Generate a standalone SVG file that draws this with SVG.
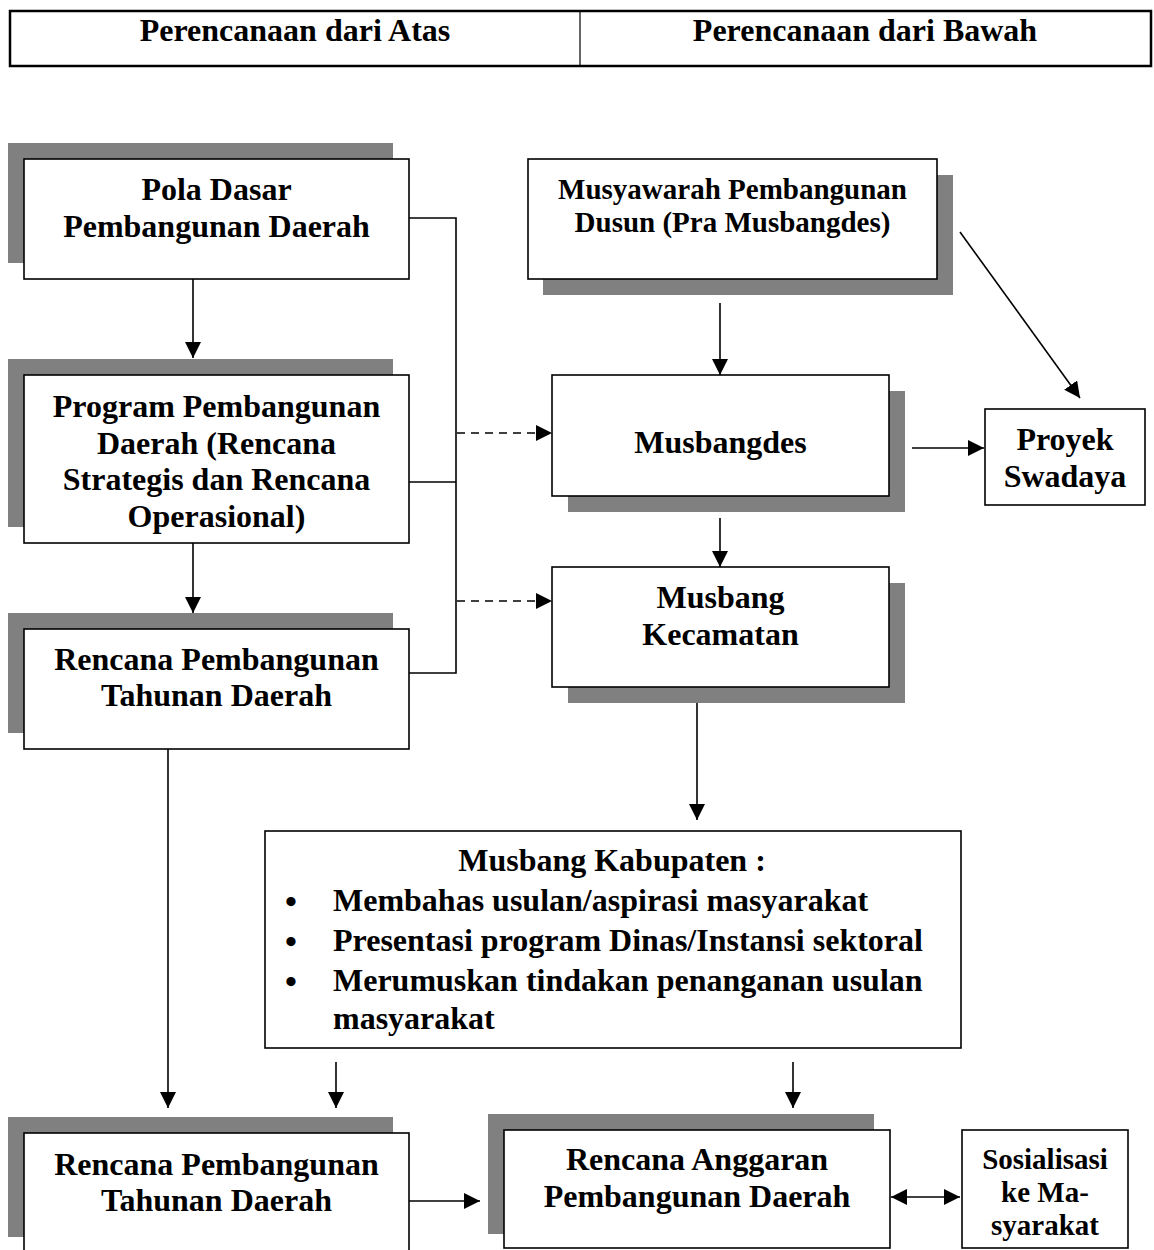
<svg xmlns="http://www.w3.org/2000/svg" width="1154" height="1250" viewBox="0 0 1154 1250">
<style>
.t{font-family:"Liberation Serif","Times New Roman",serif;font-weight:bold;font-size:32px;fill:#000;text-anchor:middle}
.s{font-size:29px}
.ss{font-size:29px}
.b{font-size:34px}
.l{text-anchor:start}
.box{fill:#fff;stroke:#000;stroke-width:1.6}
.sh{fill:#808080}
.c{fill:none;stroke:#000;stroke-width:1.6}
.d{stroke-dasharray:8,6}
.a{marker-end:url(#ah)}
</style>
<defs>
<marker id="ah" markerUnits="userSpaceOnUse" markerWidth="16" markerHeight="16" refX="15" refY="7.5" orient="auto-start-reverse" viewBox="0 0 15 15">
<path d="M0,0 L15,7.5 L0,15 z" fill="#000"/>
</marker>
</defs>
<rect width="1154" height="1250" fill="#fff"/>
<g id="header">
<rect x="10" y="11" width="1141" height="55" fill="#fff" stroke="#000" stroke-width="2.5"/>
<line x1="580" y1="11" x2="580" y2="66" stroke="#000" stroke-width="1.2"/>
<text class="t" x="295" y="41">Perencanaan dari Atas</text>
<text class="t" x="865" y="41">Perencanaan dari Bawah</text>
</g>
<g id="pola-dasar">
<rect class="sh" x="8" y="143" width="385" height="120"/>
<rect class="box" x="24" y="159" width="385" height="120"/>
<text class="t" x="216.5" y="200">Pola Dasar</text>
<text class="t" x="216.5" y="237">Pembangunan Daerah</text>
</g>
<g id="program-pembangunan">
<rect class="sh" x="8" y="359" width="385" height="168"/>
<rect class="box" x="24" y="375" width="385" height="168"/>
<text class="t" x="216.5" y="417">Program Pembangunan</text>
<text class="t" x="216.5" y="454">Daerah (Rencana</text>
<text class="t" x="216.5" y="490">Strategis dan Rencana</text>
<text class="t" x="216.5" y="527">Operasional)</text>
</g>
<g id="rencana-tahunan-1">
<rect class="sh" x="8" y="613" width="385" height="120"/>
<rect class="box" x="24" y="629" width="385" height="120"/>
<text class="t" x="216.5" y="670">Rencana Pembangunan</text>
<text class="t" x="216.5" y="706">Tahunan Daerah</text>
</g>
<g id="rencana-tahunan-2">
<rect class="sh" x="8" y="1117" width="385" height="120"/>
<rect class="box" x="24" y="1133" width="385" height="125"/>
<text class="t" x="216.5" y="1175">Rencana Pembangunan</text>
<text class="t" x="216.5" y="1211">Tahunan Daerah</text>
</g>
<g id="musyawarah-dusun">
<rect class="sh" x="543" y="175" width="410" height="120"/>
<rect class="box" x="528" y="159" width="409" height="120"/>
<text class="t s" x="732.5" y="199">Musyawarah Pembangunan</text>
<text class="t s" x="732.5" y="232">Dusun (Pra Musbangdes)</text>
</g>
<g id="musbangdes">
<rect class="sh" x="568" y="391" width="337" height="121"/>
<rect class="box" x="552" y="375" width="337" height="121"/>
<text class="t" x="720.5" y="453">Musbangdes</text>
</g>
<g id="proyek-swadaya">
<rect class="box" x="985" y="409" width="160" height="96"/>
<text class="t" x="1065" y="450">Proyek</text>
<text class="t" x="1065" y="487">Swadaya</text>
</g>
<g id="musbang-kecamatan">
<rect class="sh" x="568" y="583" width="337" height="120"/>
<rect class="box" x="552" y="567" width="337" height="120"/>
<text class="t" x="720.5" y="608">Musbang</text>
<text class="t" x="720.5" y="645">Kecamatan</text>
</g>
<g id="musbang-kabupaten">
<rect class="box" x="265" y="831" width="696" height="217"/>
<text class="t" x="612" y="871">Musbang Kabupaten :</text>
<text class="t b" x="291" y="913">•</text>
<text class="t b" x="291" y="953">•</text>
<text class="t b" x="291" y="993">•</text>
<text class="t l" x="333" y="911">Membahas usulan/aspirasi masyarakat</text>
<text class="t l" x="333" y="951">Presentasi program Dinas/Instansi sektoral</text>
<text class="t l" x="333" y="991">Merumuskan tindakan penanganan usulan</text>
<text class="t l" x="333" y="1029">masyarakat</text>
</g>
<g id="rencana-anggaran">
<rect class="sh" x="488" y="1114" width="386" height="120"/>
<rect class="box" x="504" y="1130" width="386" height="118"/>
<text class="t" x="697" y="1170">Rencana Anggaran</text>
<text class="t" x="697" y="1207">Pembangunan Daerah</text>
</g>
<g id="sosialisasi">
<rect class="box" x="962" y="1130" width="166" height="118"/>
<text class="t ss" x="1045" y="1169">Sosialisasi</text>
<text class="t ss" x="1045" y="1202">ke Ma-</text>
<text class="t ss" x="1045" y="1235">syarakat</text>
</g>
<g id="connectors">
<line class="c a" x1="193" y1="279" x2="193" y2="358"/>
<line class="c a" x1="193" y1="543" x2="193" y2="613"/>
<polyline class="c" points="409,218 456,218 456,673 409,673"/>
<line class="c" x1="409" y1="482" x2="456" y2="482"/>
<line class="c d a" x1="457" y1="433" x2="552" y2="433"/>
<line class="c d a" x1="457" y1="601" x2="552" y2="601"/>
<line class="c a" x1="720" y1="303" x2="720" y2="375"/>
<line class="c a" x1="720" y1="518" x2="720" y2="567"/>
<line class="c a" x1="960" y1="232" x2="1080" y2="398"/>
<line class="c a" x1="912" y1="448" x2="984" y2="448"/>
<line class="c a" x1="697" y1="703" x2="697" y2="820"/>
<line class="c a" x1="168" y1="749" x2="168" y2="1108"/>
<line class="c a" x1="336" y1="1062" x2="336" y2="1108"/>
<line class="c a" x1="793" y1="1062" x2="793" y2="1108"/>
<line class="c a" x1="409" y1="1201" x2="480" y2="1201"/>
<line class="c a" x1="891" y1="1197" x2="960" y2="1197" style="marker-start:url(#ah)"/>
</g>
</svg>
